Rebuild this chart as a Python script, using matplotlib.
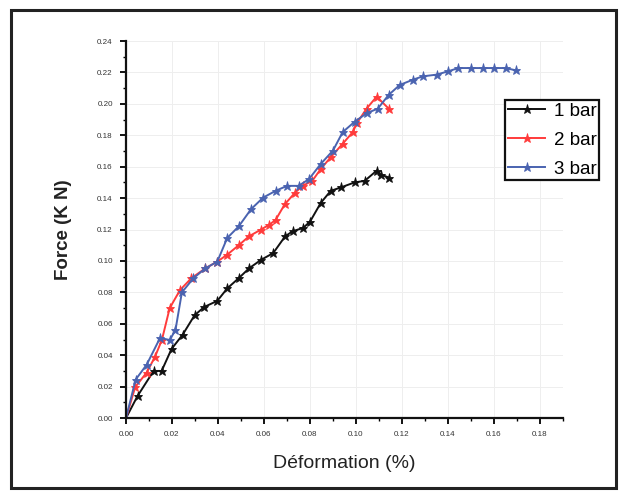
import matplotlib
matplotlib.use("Agg")
import matplotlib.pyplot as plt
from matplotlib.patches import Rectangle
from matplotlib.ticker import MultipleLocator, FormatStrFormatter

# Force-deformation curves for three pressures
x_1bar = [0.0, 0.005, 0.012, 0.0155, 0.0198, 0.0246, 0.0298, 0.034, 0.0397, 0.044,
          0.0492, 0.0535, 0.0587, 0.064, 0.0692, 0.0726, 0.077, 0.080, 0.0847, 0.089,
          0.0934, 0.0994, 0.1038, 0.109, 0.1107, 0.1145]
y_1bar = [0.0, 0.014, 0.030, 0.030, 0.044, 0.053, 0.0654, 0.0707, 0.0746, 0.0825,
          0.0893, 0.0953, 0.1007, 0.105, 0.1157, 0.119, 0.121, 0.125, 0.137, 0.1446,
          0.1468, 0.150, 0.151, 0.1575, 0.155, 0.153]

x_2bar = [0.0, 0.004, 0.009, 0.0126, 0.0156, 0.019, 0.0235, 0.0284, 0.0345, 0.0397,
          0.044, 0.049, 0.0535, 0.0587, 0.0622, 0.065, 0.069, 0.0735, 0.077, 0.081,
          0.0847, 0.089, 0.0942, 0.0986, 0.1003, 0.1046, 0.109, 0.1142]
y_2bar = [0.0, 0.0197, 0.029, 0.039, 0.0497, 0.070, 0.0815, 0.089, 0.0953, 0.0996,
          0.104, 0.110, 0.1157, 0.120, 0.123, 0.126, 0.136, 0.1435, 0.148, 0.151,
          0.1586, 0.166, 0.1746, 0.182, 0.1875, 0.197, 0.2046, 0.197]

x_3bar = [0.0, 0.0042, 0.009, 0.0148, 0.019, 0.0215, 0.0243, 0.0293, 0.0345, 0.0397,
          0.044, 0.049, 0.0544, 0.0596, 0.065, 0.070, 0.075, 0.0795, 0.0847, 0.090,
          0.0942, 0.0994, 0.1046, 0.1095, 0.1142, 0.119, 0.1246, 0.129, 0.135, 0.140,
          0.1445, 0.150, 0.155, 0.160, 0.165, 0.1696]
y_3bar = [0.0, 0.0245, 0.034, 0.051, 0.0497, 0.056, 0.080, 0.089, 0.0953, 0.0996,
          0.1146, 0.122, 0.133, 0.1403, 0.1446, 0.1478, 0.1478, 0.152, 0.1618, 0.1703,
          0.182, 0.1886, 0.194, 0.197, 0.2057, 0.212, 0.2153, 0.2175, 0.2186, 0.2207,
          0.2228, 0.2228, 0.2228, 0.2228, 0.2228, 0.2213]

series = [
    ("1 bar", x_1bar, y_1bar, "#111111"),
    ("2 bar", x_2bar, y_2bar, "#ff3b3b"),
    ("3 bar", x_3bar, y_3bar, "#4a63b0"),
]

plt.rcParams["font.family"] = ["Liberation Sans", "DejaVu Sans"]

fig = plt.figure(figsize=(6.25, 4.93), dpi=100)
ax = fig.add_axes([0.2016, 0.152, 0.6992, 0.7648])

# outer frame around the whole figure
fig.patches.append(Rectangle((0.018, 0.01), 0.968, 0.97, transform=fig.transFigure,
                             fill=False, edgecolor="#222222", linewidth=2.2))

for label, xs, ys, col in series:
    ax.plot(xs, ys, color=col, linewidth=1.4, marker="*", markersize=6.5,
            markeredgewidth=0.6, label=label)

ax.set_xlim(0, 0.19)
ax.set_ylim(0, 0.24)
ax.xaxis.set_major_locator(MultipleLocator(0.02))
ax.xaxis.set_minor_locator(MultipleLocator(0.01))
ax.yaxis.set_major_locator(MultipleLocator(0.02))
ax.yaxis.set_minor_locator(MultipleLocator(0.01))
ax.xaxis.set_major_formatter(FormatStrFormatter("%.2f"))
ax.yaxis.set_major_formatter(FormatStrFormatter("%.2f"))

for s in ("top", "right"):
    ax.spines[s].set_visible(False)
for s in ("left", "bottom"):
    ax.spines[s].set_linewidth(1.6)
    ax.spines[s].set_color("#111111")

ax.tick_params(which="major", direction="out", length=4.5, width=1.3,
               labelsize=5.8, labelcolor="#333333", pad=5)
ax.tick_params(which="minor", direction="out", length=2.5, width=1.0)

ax.grid(True, which="major", color="#eeeeee", linewidth=0.7)
ax.set_axisbelow(True)

ax.set_xlabel("Déformation (%)", fontsize=14, color="#222222", labelpad=12)
ax.set_ylabel("Force (K N)", fontsize=13.5, fontweight="bold", color="#222222", labelpad=18)

fig.legend(loc="upper left", bbox_to_anchor=(0.808, 0.797), frameon=True,
           fancybox=False, edgecolor="#111111", framealpha=1, fontsize=13.5,
           handlelength=2.0, handletextpad=0.45, borderpad=0.15, labelspacing=0.62,
           borderaxespad=0)
fig.legends[0].get_frame().set_linewidth(1.6)

fig.savefig("out.png", dpi=100)
